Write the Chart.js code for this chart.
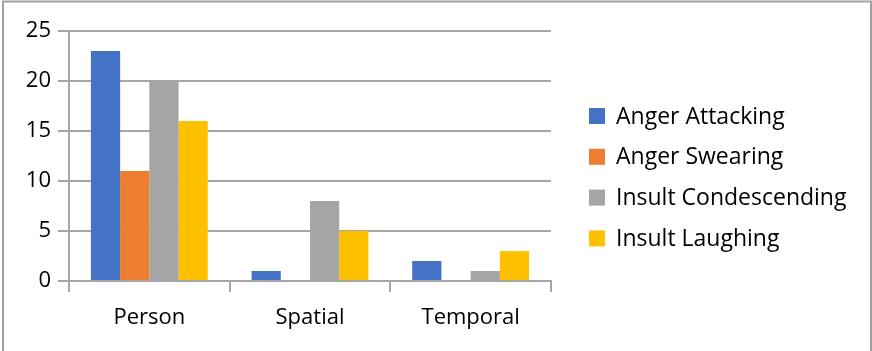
<!DOCTYPE html>
<html>
<head>
<meta charset="utf-8">
<script src="https://cdn.jsdelivr.net/npm/chart.js@4"></script>
<style>
  html, body { margin: 0; padding: 0; background: #ffffff; }
  #wrap { position: relative; width: 872px; height: 351px; }
</style>
</head>
<body>
<div id="wrap"><canvas id="c" width="872" height="351"></canvas></div>
<script>
// Categories and series counts
const categories = ['Person', 'Spatial', 'Temporal'];
const seriesNames = ['Anger Attacking', 'Anger Swearing', 'Insult Condescending', 'Insult Laughing'];
const angerAttacking = [23, 1, 2];
const angerSwearing = [11, 0, 0];
const insultCondescending = [20, 8, 1];
const insultLaughing = [16, 5, 3];
const seriesColors = ['#4472C4', '#ED7D31', '#A5A5A5', '#FFC000'];
const yTicks = [0, 5, 10, 15, 20, 25];

const FONT = '"Open Sans", "Noto Sans", sans-serif';
const GRID = '#a6a6a6';

// Frame around the chart (top, left, right edges)
const framePlugin = {
  id: 'frame',
  beforeDraw(chart) {
    const ctx = chart.ctx;
    ctx.save();
    ctx.fillStyle = '#ffffff';
    ctx.fillRect(0, 0, chart.width, chart.height);
    ctx.strokeStyle = '#a0a0a0';
    ctx.lineWidth = 2;
    ctx.beginPath();
    ctx.moveTo(3, chart.height);
    ctx.lineTo(3, 1.5);
    ctx.lineTo(chart.width - 1, 1.5);
    ctx.lineTo(chart.width - 1, chart.height);
    ctx.stroke();
    ctx.restore();
  }
};

// Legend on the right, built from the datasets
const sideLegend = {
  id: 'sideLegend',
  afterDraw(chart) {
    const ctx = chart.ctx;
    ctx.save();
    ctx.font = '23px ' + FONT;
    ctx.textBaseline = 'middle';
    ctx.textAlign = 'left';
    const x0 = 589, y0 = 116, step = 40.8, box = 16;
    chart.data.datasets.forEach((ds, i) => {
      const y = y0 + i * step;
      ctx.fillStyle = ds.backgroundColor;
      ctx.fillRect(x0, y - box / 2, box, box);
      ctx.fillStyle = '#000000';
      ctx.fillText(ds.label, x0 + 27, y + 1);
    });
    ctx.restore();
  }
};

const datasets = [angerAttacking, angerSwearing, insultCondescending, insultLaughing].map((vals, i) => ({
  label: seriesNames[i],
  data: vals,
  backgroundColor: seriesColors[i],
  borderWidth: 0,
  categoryPercentage: 4 / 5.5,
  barPercentage: 1.0
}));

new Chart(document.getElementById('c'), {
  type: 'bar',
  data: { labels: categories, datasets },
  plugins: [framePlugin, sideLegend],
  options: {
    responsive: false,
    animation: false,
    devicePixelRatio: 1,
    layout: { padding: { left: 0, top: 31, right: 321, bottom: 0 } },
    plugins: { legend: { display: false }, tooltip: { enabled: false } },
    scales: {
      x: {
        afterFit(s) { s.height = 70; },
        grid: {
          offset: true,
          drawOnChartArea: false,
          drawTicks: true,
          tickLength: 11,
          color: GRID,
          lineWidth: 2
        },
        border: { display: true, color: GRID, width: 2 },
        ticks: {
          color: '#000000',
          font: { family: FONT, size: 22 },
          padding: 13
        }
      },
      y: {
        min: 0,
        max: 25,
        afterFit(s) { s.width = 69; },
        afterBuildTicks(s) { s.ticks = yTicks.map(v => ({ value: v })); },
        grid: {
          color: GRID,
          lineWidth: 2,
          drawTicks: true,
          tickLength: 11
        },
        border: { display: true, color: GRID, width: 2 },
        ticks: {
          color: '#000000',
          font: { family: FONT, size: 22 },
          padding: 7
        }
      }
    }
  }
});
</script>
</body>
</html>
